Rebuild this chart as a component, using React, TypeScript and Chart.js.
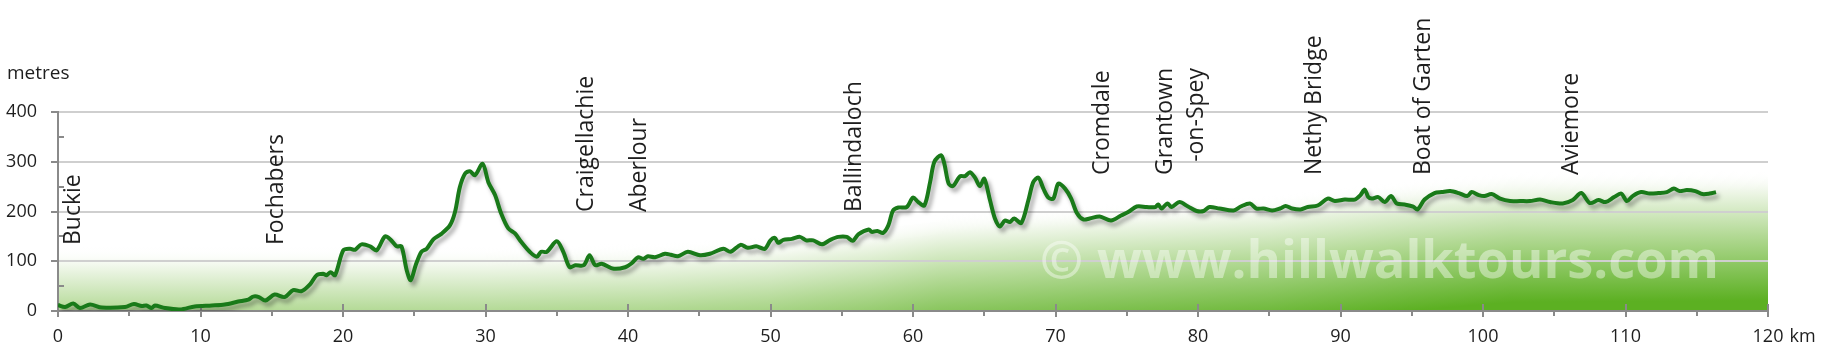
import React, { useEffect, useRef } from 'react';
import { Chart, registerables } from 'chart.js';

Chart.register(...registerables);

// ---------- data ----------
const distanceKm = [
  0, 0.5, 1.07, 1.54, 2.25, 3.07, 4.7, 5.33, 5.87, 6.2,
  6.57, 6.8, 7.5, 8.56, 9.6, 10.8, 11.7, 12.65, 13.36, 13.7,
  14.1, 14.55, 15.2, 15.9, 16.5, 17.1, 17.7, 18.15, 18.6, 18.85,
  19.13, 19.44, 20.02, 20.5, 20.84, 21.3, 21.9, 22.36, 22.95, 23.35,
  23.77, 24.1, 24.47, 24.75, 25.1, 25.5, 25.87, 26.34, 26.9, 27.5,
  27.86, 28.2, 28.56, 28.9, 29.26, 29.8, 30.2, 30.67, 31.1, 31.6,
  32.07, 32.5, 33.1, 33.6, 33.9, 34.3, 35.0, 35.46, 35.9, 36.3,
  36.9, 37.3, 37.7, 38.15, 39.0, 39.8, 40.26, 40.7, 41.07, 41.4,
  41.9, 42.6, 43.0, 43.5, 44.2, 45.05, 45.75, 46.7, 47.2, 47.9,
  48.4, 49.0, 49.6, 50.0, 50.3, 50.55, 50.9, 51.5, 52.07, 52.5,
  53.0, 53.6, 54.2, 54.76, 55.35, 55.77, 56.16, 56.9, 57.1, 57.5,
  57.9, 58.27, 58.6, 58.97, 59.56, 60.0, 60.37, 60.8, 61.2, 61.5,
  61.97, 62.2, 62.5, 62.8, 63.3, 63.65, 64.0, 64.35, 64.7, 65.0,
  65.4, 65.75, 66.1, 66.45, 66.8, 67.1, 67.6, 68.1, 68.44, 68.8,
  69.15, 69.5, 69.85, 70.2, 70.67, 71.1, 71.5, 71.95, 72.4, 73.1,
  73.9, 74.6, 75.1, 75.7, 76.4, 77.0, 77.2, 77.45, 77.85, 78.15,
  78.7, 79.3, 79.9, 80.4, 80.8, 81.5, 82.5, 83.0, 83.65, 84.1,
  84.6, 85.2, 85.75, 86.15, 86.6, 87.2, 87.7, 88.4, 89.1, 89.6,
  90.3, 91.0, 91.4, 91.7, 91.95, 92.2, 92.65, 93.1, 93.55, 93.95,
  94.5, 95.1, 95.4, 95.9, 96.6, 97.1, 97.7, 98.3, 98.9, 99.2,
  99.7, 100.1, 100.6, 101.2, 101.9, 102.6, 103.3, 104.0, 104.7, 105.6,
  106.3, 106.9, 107.5, 108.1, 108.6, 109.2, 109.7, 110.1, 110.5, 111.1,
  111.7, 112.3, 112.9, 113.4, 113.8, 114.3, 114.9, 115.4, 115.9, 116.35,
];

const elevationM = [
  12, 8, 15, 6, 13, 7, 8, 14, 10, 11,
  6, 11, 6, 3, 9, 11, 13, 19, 23, 29,
  28, 21, 33, 28, 42, 40, 54, 72, 75, 72,
  78, 72, 122, 125, 123, 134, 130, 122, 150, 143,
  130, 130, 82, 62, 92, 119, 125, 144, 155, 172,
  199, 249, 276, 281, 273, 296, 259, 233, 196, 166,
  156, 139, 119, 109, 119, 119, 140, 119, 88, 92,
  92, 112, 92, 95, 85, 88, 96, 108, 105, 110,
  108, 115, 113, 110, 119, 112, 115, 125, 119, 133,
  127, 130, 125, 142, 147, 137, 143, 145, 149, 142,
  142, 134, 143, 149, 149, 141, 154, 164, 159, 161,
  157, 172, 202, 208, 209, 228, 219, 212, 259, 300,
  313, 296, 256, 251, 271, 271, 279, 268, 251, 266,
  223, 186, 170, 182, 179, 186, 177, 223, 259, 268,
  246, 228, 226, 256, 246, 226, 197, 184, 186, 190,
  182, 192, 199, 210, 209, 209, 214, 206, 216, 209,
  219, 210, 201, 201, 209, 206, 202, 210, 216, 206,
  206, 202, 206, 211, 206, 204, 209, 212, 226, 221,
  224, 224, 233, 244, 229, 226, 229, 219, 231, 216,
  214, 210, 204, 224, 237, 239, 241, 237, 231, 239,
  233, 231, 235, 226, 221, 221, 221, 224, 219, 216,
  223, 237, 217, 223, 219, 229, 236, 221, 231, 239,
  236, 237, 239, 246, 241, 243, 241, 235, 236, 239,
];

const xTickKm = [0, 10, 20, 30, 40, 50, 60, 70, 80, 90, 100, 110, 120];
const yTickM = [0, 100, 200, 300, 400];

const townNames = [
  'Buckie', 'Fochabers', 'Craigellachie', 'Aberlour', 'Ballindaloch',
  'Cromdale', 'Grantown\n-on-Spey', 'Nethy Bridge', 'Boat of Garten', 'Aviemore',
];
const townKm = [1.1, 15.35, 37.1, 40.8, 55.9, 73.3, 78.8, 88.2, 95.8, 106.2];

// soft green backdrop: elevation (m) where the shading begins, along the route
const shadeEdgeKm = [0, 30, 42, 50, 57, 62, 72, 85, 95, 102, 120];
const shadeEdgeM = [105, 105, 112, 125, 148, 170, 188, 208, 238, 255, 258];

const yUnit = 'metres';
const xUnit = 'km';
const watermarkText = '\u00A9 www.hillwalktours.com';

// ---------- layout / style ----------
const FONT = '"Open Sans", "DejaVu Sans", sans-serif';
const AXIS_COLOR = '#8a8a8a';
const GRID_COLOR = '#cfcfcf';
const LINE_COLOR = '#197a19';
const TEXT_COLOR = '#1e1e1e';
// label anchor: distance (px) above the x axis of the bottom of the text, or of its top for 'top'
const townAnchor = [
  { from: 'bottom', px: 66 }, { from: 'bottom', px: 66 },
  { from: 'bottom', px: 99 }, { from: 'bottom', px: 99 }, { from: 'bottom', px: 99 },
  { from: 'bottom', px: 136 }, { from: 'top', px: 243 }, { from: 'bottom', px: 136 },
  { from: 'bottom', px: 136 }, { from: 'bottom', px: 136 },
];

function interp(x: number, xs: number[], ys: number[]) {
  if (x <= xs[0]) return ys[0];
  for (let i = 1; i < xs.length; i++) {
    if (x <= xs[i]) {
      const t = (x - xs[i - 1]) / (xs[i] - xs[i - 1]);
      return ys[i - 1] + t * (ys[i] - ys[i - 1]);
    }
  }
  return ys[ys.length - 1];
}

export default function App() {
  const ref = useRef<HTMLCanvasElement>(null);

  useEffect(() => {
    const canvas = ref.current;
    if (!canvas) return;
    const points = distanceKm.map((x, i) => ({ x, y: elevationM[i] }));

    const shadePlugin = {
      id: 'shade',
      beforeDraw(chart: any) {
        const { ctx, chartArea } = chart;
        const xs = chart.scales.x;
        const ys = chart.scales.y;
        const { left, right, bottom } = chartArea;
        const depth = 130;
        const step = 2;
        ctx.save();
        for (let px = Math.round(left); px < right; px += step) {
          const km = xs.getValueForPixel(px + step / 2);
          const ey = ys.getPixelForValue(interp(km, shadeEdgeKm, shadeEdgeM));
          const top = ey - 12;
          const g = ctx.createLinearGradient(0, top, 0, top + depth);
          g.addColorStop(0, 'rgba(255,255,255,0)');
          g.addColorStop(0.15, 'rgba(240,247,234,1)');
          g.addColorStop(0.5, 'rgb(178,217,148)');
          g.addColorStop(1, 'rgb(92,176,34)');
          ctx.fillStyle = g;
          ctx.fillRect(px, top, Math.min(step, right - px), bottom - top);
        }
        ctx.restore();
      },
    };

    const decorPlugin = {
      id: 'decor',
      beforeDatasetsDraw(chart: any) {
        const { ctx, chartArea } = chart;
        const xs = chart.scales.x;
        const ys = chart.scales.y;
        const { left, bottom } = chartArea;
        ctx.save();
        // watermark
        const wx0 = xs.getPixelForValue(68.9);
        const wx1 = xs.getPixelForValue(116.6);
        ctx.font = `bold 52px ${FONT}`;
        const w = ctx.measureText(watermarkText).width;
        const size = 52 * (wx1 - wx0) / w;
        ctx.font = `bold ${size.toFixed(1)}px ${FONT}`;
        ctx.fillStyle = 'rgba(255,255,255,0.42)';
        ctx.textAlign = 'left';
        ctx.textBaseline = 'alphabetic';
        ctx.fillText(watermarkText, wx0, bottom - 33);
        // tick marks
        ctx.strokeStyle = AXIS_COLOR;
        ctx.lineWidth = 2;
        ctx.beginPath();
        for (let v = 0; v <= 400; v += 50) {
          const y = Math.round(ys.getPixelForValue(v));
          if (v % 100 === 0) { ctx.moveTo(left - 7, y); ctx.lineTo(left, y); }
          else { ctx.moveTo(left, y); ctx.lineTo(left + 6, y); }
        }
        for (let k = 0; k <= 120; k += 5) {
          const x = Math.round(xs.getPixelForValue(k));
          if (k % 10 === 0) { ctx.moveTo(x, bottom - 7); ctx.lineTo(x, bottom + 6); }
          else { ctx.moveTo(x, bottom); ctx.lineTo(x, bottom + 5); }
        }
        ctx.stroke();
        ctx.restore();
      },
      beforeDatasetDraw(chart: any, args: any) {
        if (args.index !== 0) return;
        const ctx = chart.ctx;
        ctx.save();
        ctx.shadowColor = 'rgba(0,0,0,0.35)';
        ctx.shadowBlur = 4;
        ctx.shadowOffsetX = 3;
        ctx.shadowOffsetY = 4;
      },
      afterDatasetDraw(chart: any, args: any) {
        if (args.index !== 0) return;
        chart.ctx.restore();
      },
      afterDraw(chart: any) {
        const { ctx, chartArea } = chart;
        const xs = chart.scales.x;
        const { top, bottom } = chartArea;
        ctx.save();
        ctx.fillStyle = TEXT_COLOR;
        // town labels (vertical)
        ctx.font = `23px ${FONT}`;
        ctx.textBaseline = 'middle';
        const lh = 31;
        townNames.forEach((name, i) => {
          const lines = name.split('\n');
          const x = xs.getPixelForValue(townKm[i]);
          const a = townAnchor[i];
          ctx.save();
          ctx.translate(x, bottom - a.px);
          ctx.rotate(-Math.PI / 2);
          ctx.textAlign = a.from === 'bottom' ? 'left' : 'right';
          lines.forEach((ln, j) => {
            ctx.fillText(ln, 0, (j - (lines.length - 1) / 2) * lh);
          });
          ctx.restore();
        });
        // unit labels
        ctx.font = `19px ${FONT}`;
        ctx.textAlign = 'left';
        ctx.textBaseline = 'middle';
        ctx.fillText(yUnit, 7, top - 38);
        ctx.font = `18px ${FONT}`;
        const last = xTickKm[xTickKm.length - 1];
        const lw = ctx.measureText(String(last)).width;
        ctx.fillText(xUnit, xs.getPixelForValue(last) + lw / 2 + 6, bottom + 26);
        ctx.restore();
      },
    };

    const chart = new Chart(canvas, {
      type: 'line',
      data: {
        datasets: [
          {
            label: 'Elevation',
            data: points,
            borderColor: LINE_COLOR,
            borderWidth: 4,
            pointRadius: 0,
            tension: 0.3,
            fill: false,
          },
        ],
      },
      options: {
        responsive: false,
        animation: false,
        devicePixelRatio: 1,
        layout: { padding: { top: 112, right: 67, left: 0, bottom: 0 } },
        plugins: {
          legend: { display: false },
          tooltip: { enabled: false },
          title: { display: false },
        },
        scales: {
          x: {
            type: 'linear',
            min: 0,
            max: 120,
            afterFit: (s: any) => { s.height = 49; },
            afterBuildTicks: (s: any) => { s.ticks = xTickKm.map((v) => ({ value: v })); },
            grid: { display: false, drawTicks: false },
            border: { display: true, color: AXIS_COLOR, width: 2 },
            ticks: {
              padding: 15,
              color: TEXT_COLOR,
              font: { size: 18, family: FONT },
              maxRotation: 0,
              autoSkip: false,
              callback: (v: any) => String(v),
            },
          },
          y: {
            type: 'linear',
            min: 0,
            max: 400,
            afterFit: (s: any) => { s.width = 58; },
            afterBuildTicks: (s: any) => { s.ticks = yTickM.map((v) => ({ value: v })); },
            grid: {
              color: (c: any) => (c.tick && c.tick.value === 0 ? 'rgba(0,0,0,0)' : GRID_COLOR),
              lineWidth: 2,
              drawTicks: false,
            },
            border: { display: true, color: AXIS_COLOR, width: 2 },
            ticks: {
              padding: 21,
              color: TEXT_COLOR,
              font: { size: 18, family: FONT },
              callback: (v: any) => String(v),
            },
          },
        },
      },
      plugins: [shadePlugin, decorPlugin],
    } as any);

    return () => chart.destroy();
  }, []);

  return (
    <div style={{ position: 'fixed', left: 0, top: 0, width: 1835, height: 360, background: '#fff' }}>
      <canvas ref={ref} width={1835} height={360} style={{ display: 'block' }} />
    </div>
  );
}
